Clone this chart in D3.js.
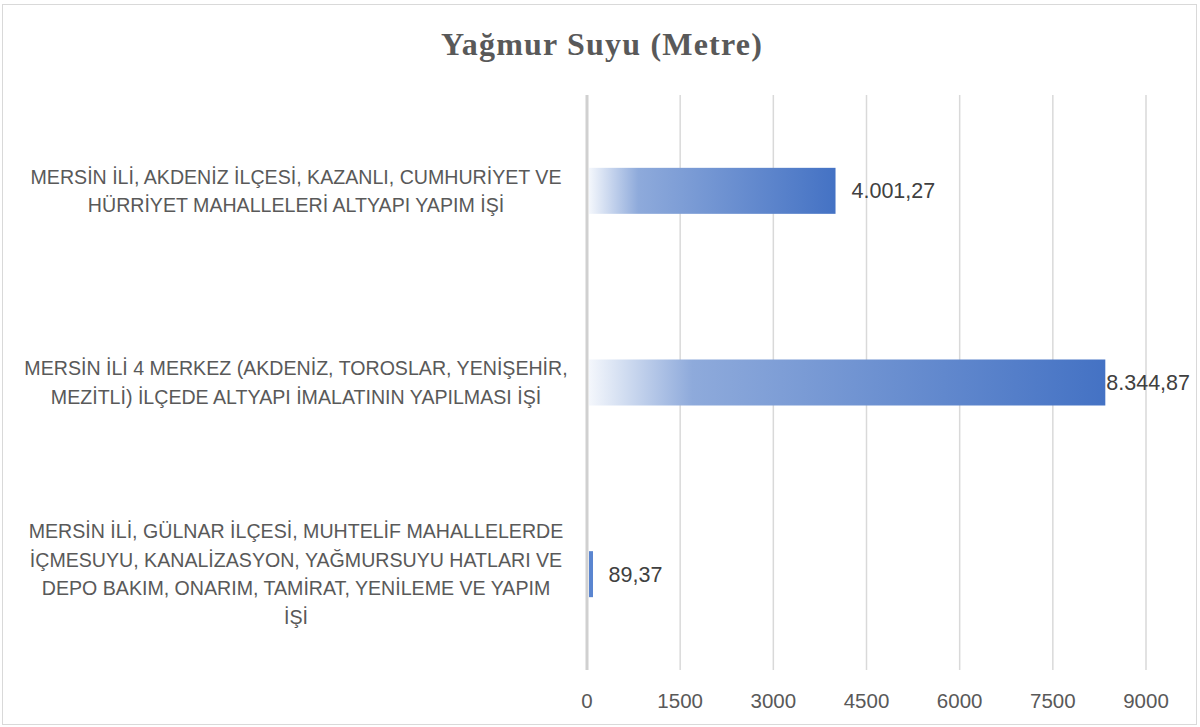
<!DOCTYPE html>
<html>
<head>
<meta charset="utf-8">
<script src="https://cdn.jsdelivr.net/npm/d3@7"></script>
<style>
  body { margin: 0; background: #fff; }
  svg text { font-family: "Liberation Sans", "Open Sans", sans-serif; }
</style>
</head>
<body>
<div id="chart"></div>
<script>
// Chart data
const title = "Yağmur Suyu (Metre)";
const categories = [
  ["MERSİN İLİ, AKDENİZ İLÇESİ, KAZANLI, CUMHURİYET VE", "HÜRRİYET MAHALLELERİ ALTYAPI YAPIM İŞİ"],
  ["MERSİN İLİ 4 MERKEZ (AKDENİZ, TOROSLAR, YENİŞEHİR,", "MEZİTLİ) İLÇEDE ALTYAPI İMALATININ YAPILMASI İŞİ"],
  ["MERSİN İLİ, GÜLNAR İLÇESİ, MUHTELİF MAHALLELERDE", "İÇMESUYU, KANALİZASYON, YAĞMURSUYU HATLARI VE", "DEPO BAKIM, ONARIM, TAMİRAT, YENİLEME VE YAPIM", "İŞİ"]
];
const values = [4001.27, 8344.87, 89.37];
const valueLabels = ["4.001,27", "8.344,87", "89,37"];
const ticks = [0, 1500, 3000, 4500, 6000, 7500, 9000];

let width = 1200;
let height = 727;

const svg = d3.select("#chart")
  .append("svg")
  .attr("width", width)
  .attr("height", height);

// chart border
svg.append("rect")
  .attr("x", 2.5).attr("y", 4.5)
  .attr("width", 1194).attr("height", 720)
  .attr("fill", "#fff")
  .attr("stroke", "#d9d9d9");

// gradient like the office fill
const grad = svg.append("defs").append("linearGradient")
  .attr("id", "barGrad")
  .attr("x1", "0%").attr("x2", "100%").attr("y1", "0%").attr("y2", "0%");
grad.append("stop").attr("offset", "0%").attr("stop-color", "#f4f7fc");
grad.append("stop").attr("offset", "20%").attr("stop-color", "#8eaadb");
grad.append("stop").attr("offset", "100%").attr("stop-color", "#4472c4");

const x = d3.scaleLinear().domain([0, 9000]).range([587, 1146]);
const y = d3.scaleBand().domain(d3.range(categories.length)).range([95, 670]).paddingInner(0.76).paddingOuter(0.38);

// gridlines
svg.selectAll(".grid")
  .data(ticks)
  .enter()
  .append("line")
  .attr("x1", d => x(d)).attr("x2", d => x(d))
  .attr("y1", 95).attr("y2", 670)
  .attr("stroke", d => d === 0 ? "#d0d0d0" : "#d9d9d9")
  .attr("stroke-width", d => d === 0 ? 3 : 1.5);

// tick labels
svg.selectAll(".tick")
  .data(ticks)
  .enter()
  .append("text")
  .attr("x", d => x(d))
  .attr("y", 708)
  .attr("text-anchor", "middle")
  .attr("fill", "#595959")
  .style("font-size", "20.5px")
  .text(d => d);

// bars
svg.selectAll(".bar")
  .data(values)
  .enter()
  .append("rect")
  .attr("x", x(0) + 2)
  .attr("y", (d, i) => y(i))
  .attr("width", d => x(d) - x(0) - 2 > 0 ? Math.max(x(d) - x(0) - 2, 4) : 0)
  .attr("height", y.bandwidth())
  .attr("fill", (d, i) => x(d) - x(0) < 20 ? "#5a85d0" : "url(#barGrad)");

// value labels
svg.selectAll(".val")
  .data(values)
  .enter()
  .append("text")
  .attr("y", (d, i) => y(i) + y.bandwidth() / 2 + 7.5)
  .attr("fill", "#404040")
  .style("font-size", "21.5px")
  .text((d, i) => valueLabels[i])
  .attr("x", function(d) {
    let w = this.getComputedTextLength();
    let px = x(d) + 16;
    if (px + w > 1192) px = x(d) + 1;
    return px;
  });

// category labels
categories.forEach(function(lines, i) {
  let cy = y(i) + y.bandwidth() / 2;
  let lh = 28.5;
  let start = cy - (lines.length - 1) * lh / 2 + 7;
  svg.append("text")
    .attr("text-anchor", "middle")
    .attr("fill", "#595959")
    .style("font-size", "19.6px")
    .selectAll("tspan")
    .data(lines)
    .enter()
    .append("tspan")
    .attr("x", 296)
    .attr("y", (d, j) => start + j * lh)
    .text(d => d);
});

// title
svg.append("text")
  .attr("x", 602)
  .attr("y", 55)
  .attr("text-anchor", "middle")
  .attr("fill", "#595959")
  .style("font-family", "'Liberation Serif', 'DejaVu Serif', serif")
  .style("font-weight", "bold")
  .style("font-size", "32px")
  .style("letter-spacing", "1.2px")
  .text(title);
</script>
</body>
</html>
